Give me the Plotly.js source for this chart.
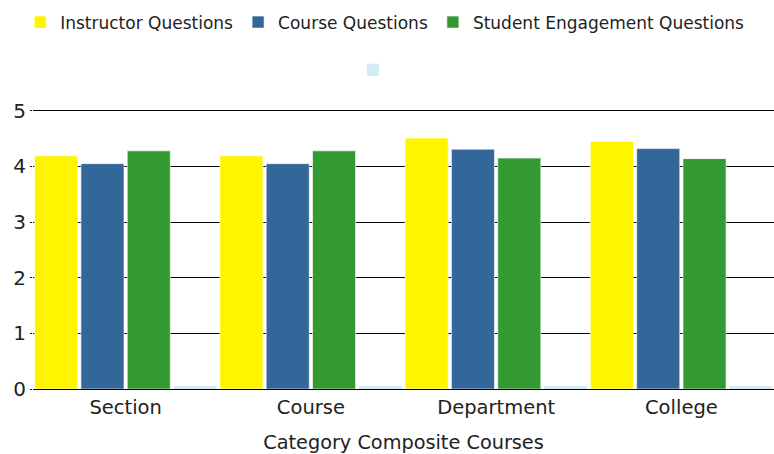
<!DOCTYPE html>
<html><head><meta charset="utf-8">
<script src="https://cdn.plot.ly/plotly-3.0.1.min.js"></script>
<style>html,body{margin:0;padding:0;background:#fff}#chart{width:774px;height:454px}</style>
</head><body><div id="chart"></div>
<script>
const categories = ["Section", "Course", "Department", "College"];
const instructorQuestions = [4.19, 4.19, 4.51, 4.45];
const courseQuestions = [4.05, 4.05, 4.31, 4.32];
const studentEngagementQuestions = [4.28, 4.28, 4.15, 4.14];
const unnamedSeries = [0.05, 0.05, 0.05, 0.05];
const seriesNames = ["Instructor Questions", "Course Questions", "Student Engagement Questions", ""];
const yTicks = [0, 1, 2, 3, 4, 5];

const FONT = "DejaVu Sans, sans-serif";
const colors = ["#fff500", "#336699", "#339933", "#d2ebf4"];
const values = [instructorQuestions, courseQuestions, studentEngagementQuestions, unnamedSeries];

const traces = values.map((v, i) => ({
  type: "bar",
  x: categories,
  y: v,
  name: seriesNames[i],
  legend: i === 3 ? "legend2" : "legend",
  marker: { color: colors[i], line: { color: "rgba(255,255,255,0.6)", width: i === 3 ? 0 : 1 } },
  hoverinfo: "skip"
}));

const layout = {
  width: 774, height: 454,
  margin: { l: 33, r: 0, t: 108, b: 65 },
  paper_bgcolor: "#fff", plot_bgcolor: "#fff",
  font: { family: FONT, color: "#222", size: 17 },
  barmode: "group",
  bargap: 0,
  bargroupgap: 0.07,
  xaxis: {
    type: "category",
    tickfont: { size: 19.5, family: FONT, color: "#222" },
    ticklabelstandoff: 4,
    title: { text: "Category Composite Courses", font: { size: 19.3, family: FONT, color: "#222" }, standoff: 22 },
    showline: false, showgrid: false, zeroline: false, ticks: ""
  },
  yaxis: {
    range: [0, 5.05],
    tickvals: yTicks,
    tickfont: { size: 20, family: FONT, color: "#222" },
    showgrid: true, gridcolor: "#000", gridwidth: 1,
    zeroline: true, zerolinecolor: "#000", zerolinewidth: 1,
    ticks: "outside", ticklen: 2, tickcolor: "#000",
    fixedrange: true
  },
  showlegend: true,
  legend: {
    orientation: "h", xref: "container", x: 0.497, xanchor: "center",
    yref: "container", y: 0.99, yanchor: "top",
    font: { size: 17, family: FONT, color: "#222" },
    itemclick: false, bgcolor: "rgba(0,0,0,0)"
  },
  legend2: {
    orientation: "h", xref: "container", x: 0.485, xanchor: "center",
    yref: "container", y: 0.885, yanchor: "top",
    font: { size: 17, family: FONT, color: "#222" },
    itemclick: false, bgcolor: "rgba(0,0,0,0)"
  }
};

Plotly.newPlot("chart", traces, layout, { displayModeBar: false, staticPlot: true });
</script></body></html>
